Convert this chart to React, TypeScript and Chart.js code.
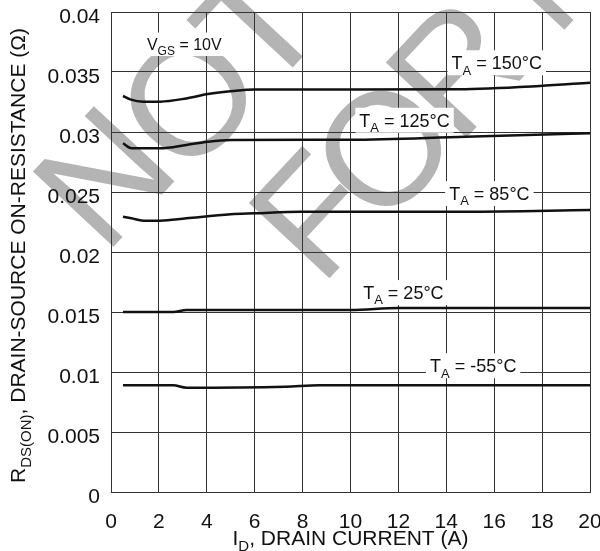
import { useEffect, useRef } from "react";
import { Chart, registerables } from "chart.js";

Chart.register(...registerables);

// Drain current tick values (A) and on-resistance tick values (Ω)
const currentTicks = [0, 2, 4, 6, 8, 10, 12, 14, 16, 18, 20];
const resistanceTicks = [0, 0.005, 0.01, 0.015, 0.02, 0.025, 0.03, 0.035, 0.04];

// R_DS(ON) vs I_D, one pair of arrays per ambient temperature
const id150 = [0.5, 0.8, 1.35, 2.05, 3.15, 4.05, 5.1, 6.0, 10.0, 14.5, 17.9, 20.0];
const r150 = [0.033, 0.03272, 0.03253, 0.03253, 0.0328, 0.03317, 0.03342, 0.03354, 0.03354, 0.03356, 0.03383, 0.03411];

const id125 = [0.5, 0.85, 2.05, 3.15, 4.05, 5.0, 10.0, 14.8, 20.0];
const r125 = [0.02906, 0.02864, 0.02864, 0.02892, 0.02919, 0.02933, 0.02935, 0.02961, 0.02989];

const id85 = [0.5, 0.85, 1.35, 2.05, 3.15, 5.0, 6.0, 7.9, 14.8, 20.0];
const r85 = [0.02294, 0.02281, 0.02261, 0.02261, 0.02281, 0.02314, 0.02322, 0.02336, 0.02336, 0.0235];

const id25 = [0.5, 2.6, 3.15, 10.0, 12.0, 20.0];
const r25 = [0.015, 0.015, 0.01517, 0.01517, 0.01533, 0.01533];

const idM55 = [0.5, 2.6, 3.15, 7.3, 8.7, 20.0];
const rM55 = [0.00889, 0.00889, 0.00869, 0.00878, 0.00889, 0.00889];

// Curve annotations: text pieces (sub = subscript), anchored at data coordinates
type Piece = { t: string; sub?: boolean };
const curveLabels: { parts: Piece[]; x: number; y: number; size: number }[] = [
  { parts: [{ t: "V" }, { t: "GS", sub: true }, { t: " = 10V" }], x: 1.5, y: 0.03683, size: 16 },
  { parts: [{ t: "T" }, { t: "A", sub: true }, { t: " = 150°C" }], x: 14.22, y: 0.03523, size: 18 },
  { parts: [{ t: "T" }, { t: "A", sub: true }, { t: " = 125°C" }], x: 10.37, y: 0.03044, size: 18 },
  { parts: [{ t: "T" }, { t: "A", sub: true }, { t: " = 85°C" }], x: 14.12, y: 0.02433, size: 18 },
  { parts: [{ t: "T" }, { t: "A", sub: true }, { t: " = 25°C" }], x: 10.53, y: 0.01608, size: 18 },
  { parts: [{ t: "T" }, { t: "A", sub: true }, { t: " = -55°C" }], x: 13.32, y: 0.00998, size: 18 },
];

const xTitle: Piece[] = [{ t: "I" }, { t: "D", sub: true }, { t: ", DRAIN CURRENT (A)" }];
const yTitle: Piece[] = [
  { t: "R" },
  { t: "DS(ON)", sub: true },
  { t: ", DRAIN-SOURCE ON-RESISTANCE (Ω)" },
];

const FONT = '"Liberation Sans", Arial, Helvetica, sans-serif';

function pieceFont(size: number, sub?: boolean) {
  return `${sub ? Math.round(size * 0.72) : size}px ${FONT}`;
}

function measurePieces(ctx: CanvasRenderingContext2D, parts: Piece[], size: number) {
  let w = 0;
  for (const p of parts) {
    ctx.font = pieceFont(size, p.sub);
    w += ctx.measureText(p.t).width;
  }
  return w;
}

function drawPieces(ctx: CanvasRenderingContext2D, parts: Piece[], x: number, y: number, size: number) {
  let cx = x;
  ctx.textBaseline = "alphabetic";
  ctx.textAlign = "left";
  for (const p of parts) {
    ctx.font = pieceFont(size, p.sub);
    ctx.fillText(p.t, cx, p.sub ? y + size * 0.3 : y);
    cx += ctx.measureText(p.t).width;
  }
}

// Background stamp lettering, one glyph at a time (glyph centre in canvas px)
const stampLetters = [
  { ch: "N", cx: 102, cy: 175 },
  { ch: "O", cx: 187, cy: 97 },
  { ch: "T", cx: 256, cy: 23 },
  { ch: "F", cx: 312, cy: 213 },
  { ch: "O", cx: 382, cy: 147 },
  { ch: "R", cx: 455, cy: 66 },
  { ch: "N", cx: 553, cy: -42 },
];
const STAMP_SIZE = 160;
const STAMP_ANGLE = -47;

const backdrop = {
  id: "backdrop",
  beforeDraw(chart: Chart) {
    const ctx = chart.ctx;
    ctx.save();
    ctx.fillStyle = "#ffffff";
    ctx.fillRect(0, 0, chart.width, chart.height);
    ctx.fillStyle = "#b4b4b4";
    ctx.font = `${STAMP_SIZE}px ${FONT}`;
    ctx.textBaseline = "alphabetic";
    ctx.textAlign = "center";
    for (const s of stampLetters) {
      ctx.save();
      ctx.translate(s.cx, s.cy);
      ctx.rotate((STAMP_ANGLE * Math.PI) / 180);
      ctx.fillText(s.ch, 0, STAMP_SIZE * 0.358);
      ctx.restore();
    }
    ctx.restore();
  },
};

const annotations = {
  id: "annotations",
  afterDraw(chart: Chart) {
    const ctx = chart.ctx;
    const xs = chart.scales.x;
    const ys = chart.scales.y;
    ctx.save();
    for (const lab of curveLabels) {
      const px = xs.getPixelForValue(lab.x);
      const py = ys.getPixelForValue(lab.y);
      const w = measurePieces(ctx, lab.parts, lab.size);
      ctx.fillStyle = "#ffffff";
      ctx.fillRect(px - 4, py - lab.size * 0.72 - 6, w + 8, lab.size * 0.72 + 12);
      ctx.fillStyle = "#111111";
      drawPieces(ctx, lab.parts, px, py, lab.size);
    }

    // axis titles
    const area = chart.chartArea;
    ctx.fillStyle = "#111111";
    const tw = measurePieces(ctx, xTitle, 21);
    drawPieces(ctx, xTitle, (area.left + area.right) / 2 - tw / 2, 545, 21);

    const yw = measurePieces(ctx, yTitle, 21);
    ctx.save();
    ctx.translate(25, 255.5);
    ctx.rotate(-Math.PI / 2);
    drawPieces(ctx, yTitle, -yw / 2, 0, 21);
    ctx.restore();
    ctx.restore();
  },
};

function series(xs: number[], ys: number[]) {
  return xs.map((x, i) => ({ x, y: ys[i] }));
}

export default function App() {
  const canvasRef = useRef<HTMLCanvasElement | null>(null);

  useEffect(() => {
    if (!canvasRef.current) return;
    const line = (data: { x: number; y: number }[]) => ({
      data,
      borderColor: "#111111",
      borderWidth: 2.5,
      pointRadius: 0,
      fill: false,
      cubicInterpolationMode: "monotone" as const,
    });
    const chart = new Chart(canvasRef.current, {
      type: "line",
      data: {
        datasets: [
          line(series(id150, r150)),
          line(series(id125, r125)),
          line(series(id85, r85)),
          line(series(id25, r25)),
          line(series(idM55, rM55)),
        ],
      },
      options: {
        responsive: false,
        animation: false,
        layout: { padding: { top: 12, right: 10, left: 0, bottom: 0 } },
        plugins: { legend: { display: false }, tooltip: { enabled: false } },
        scales: {
          x: {
            type: "linear",
            min: currentTicks[0],
            max: currentTicks[currentTicks.length - 1],
            afterBuildTicks: (s: any) => {
              s.ticks = currentTicks.map((v) => ({ value: v }));
            },
            afterFit: (s: any) => {
              s.height = 59;
              s.paddingLeft = 0;
              s.paddingRight = 0;
            },
            grid: { color: "#333333", lineWidth: 1, drawTicks: false },
            border: { color: "#333333", width: 1 },
            ticks: {
              padding: 18,
              color: "#111111",
              font: { family: FONT, size: 21 },
              maxRotation: 0,
              callback: (v: any) => String(v),
            },
          },
          y: {
            type: "linear",
            min: resistanceTicks[0],
            max: resistanceTicks[resistanceTicks.length - 1],
            afterBuildTicks: (s: any) => {
              s.ticks = resistanceTicks.map((v) => ({ value: v }));
            },
            afterFit: (s: any) => {
              s.width = 111;
              s.paddingTop = 0;
              s.paddingBottom = 0;
            },
            grid: { color: "#333333", lineWidth: 1, drawTicks: false },
            border: { color: "#333333", width: 1 },
            ticks: {
              padding: 11,
              labelOffset: 5,
              color: "#111111",
              font: { family: FONT, size: 21 },
              callback: (v: any) => String(parseFloat(Number(v).toFixed(4))),
            },
          },
        },
      },
      plugins: [backdrop, annotations],
    });
    return () => chart.destroy();
  }, []);

  return (
    <div style={{ position: "absolute", left: 0, top: 0, width: 600, height: 551, background: "#fff" }}>
      <canvas ref={canvasRef} width={600} height={551} style={{ display: "block" }} />
    </div>
  );
}
